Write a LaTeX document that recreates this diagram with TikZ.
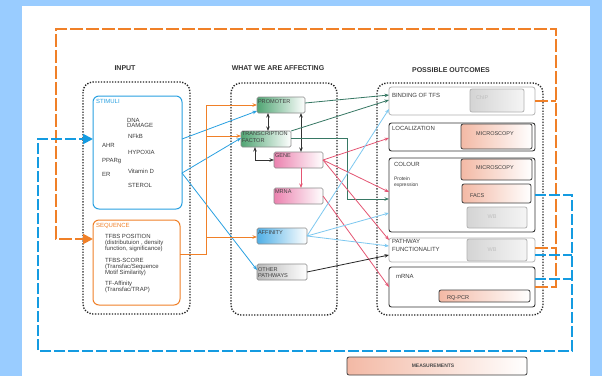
\documentclass[tikz,border=0pt]{standalone}
\usepackage{fontspec}
\setmainfont{Liberation Sans}
\usetikzlibrary{arrows.meta,shadings}
\definecolor{bgblue}{RGB}{153,204,255}
\definecolor{ob}{RGB}{240,128,40}
\definecolor{db}{RGB}{20,155,225}
\definecolor{sb}{RGB}{40,160,225}
\definecolor{lb}{RGB}{125,200,240}
\definecolor{tg}{RGB}{55,120,100}
\definecolor{pk}{RGB}{228,85,115}
\definecolor{grnb}{RGB}{80,165,115}
\definecolor{pinkb}{RGB}{235,130,175}
\definecolor{blueb}{RGB}{80,175,230}
\definecolor{grayb}{RGB}{185,185,185}
\definecolor{salmon}{RGB}{243,185,165}
\definecolor{chipg}{RGB}{212,212,212}
\definecolor{txtc}{RGB}{60,60,60}
\begin{document}
\begin{tikzpicture}[x=1pt,y=-1pt,
  txt/.style={inner sep=0pt,outer sep=0pt,anchor=base west,text=txtc,font=\fontsize{6}{7}\selectfont},
  small/.style={txt,font=\fontsize{5}{6}\selectfont},
  ttl/.style={inner sep=0pt,anchor=base,text=black!80,font=\bfseries\fontsize{7}{8}\selectfont},
  cont/.style={draw=black!85,line width=1.4pt,dash pattern=on 1.3pt off 1.5pt,rounded corners=10pt},
  bx/.style={rectangle,inner sep=0pt,outer sep=0pt,anchor=north west},
  mid/.style={bx,draw=black!45,line width=0.7pt,rounded corners=1.5pt},
  outd/.style={bx,draw=black!80,line width=0.9pt,rounded corners=2.5pt},
  outl/.style={bx,draw=black!30,line width=0.8pt,rounded corners=2.5pt},
  meas/.style={bx,draw=black!75,line width=0.8pt,rounded corners=2pt,left color=salmon,right color=white},
  gbox/.style={bx,draw=black!30,line width=0.8pt,rounded corners=2pt,left color=chipg,right color=white!96!black},
  arr/.style={-{Stealth[length=4.5pt,width=3.5pt]},line width=0.8pt},
  darr/.style={{Stealth[length=4.5pt,width=3.5pt]}-{Stealth[length=4.5pt,width=3.5pt]},line width=0.8pt,draw=black!80},
  oloop/.style={draw=ob,line width=2pt,dash pattern=on 13pt off 3pt},
  bloop/.style={draw=db,line width=2pt,dash pattern=on 11pt off 3pt},
  bigtip/.style={-{Triangle[length=10pt,width=10pt]}}
]
\useasboundingbox (0,0) rectangle (602,376);
\fill[bgblue] (0,0) rectangle (602,376);
\fill[white] (22,6) rectangle (590,376);

% titles
\node[ttl] (tin) at (125,70) {INPUT};
\node[ttl] (taff) at (278,70) {WHAT WE ARE AFFECTING};
\node[ttl] (tout) at (451,72) {POSSIBLE OUTCOMES};

% containers
\draw[cont] (83,82) rectangle (190,314);
\draw[cont] (231,83) rectangle (337,315);
\draw[cont] (377,83) rectangle (543,315);

% input boxes
\node[bx,draw=sb,line width=1pt,rounded corners=6pt,minimum width=89pt,minimum height=113pt] (stimuli) at (93,96) {};
\node[bx,draw=ob,line width=1pt,rounded corners=6pt,minimum width=87pt,minimum height=85pt] (sequence) at (93,220) {};
\node[txt,text=sb] (stT) at (96,103) {STIMULI};
\node[txt] (s1) at (127,122) {DNA};
\node[txt] (s2) at (127,127.5) {DAMAGE};
\node[txt] (s3) at (128,138) {NFkB};
\node[txt] (s4) at (102,147) {AHR};
\node[txt] (s5) at (128,154) {HYPOXIA};
\node[txt] (s6) at (102,162) {PPARg};
\node[txt] (s7) at (128,173) {Vitamin D};
\node[txt] (s8) at (102,176) {ER};
\node[txt] (s9) at (128,187) {STEROL};
\node[txt,text=ob] (sqT) at (96,227.5) {SEQUENCE};
\node[txt] (q1) at (105,238) {TFBS POSITION};
\node[txt] (q2) at (105,244) {(distributuion , density};
\node[txt] (q3) at (105,250) {function, significance)};
\node[txt] (q4) at (105,262) {TFBS-SCORE};
\node[txt] (q5) at (105,268) {(Transfac/Sequence};
\node[txt] (q6) at (105,274) {Motif Similarity)};
\node[txt] (q7) at (105,285) {TF-Affinity};
\node[txt] (q8) at (105,291) {(Transfac/TRAP)};

% middle boxes
\node[mid,left color=grnb,right color=white,minimum width=48pt,minimum height=16pt] (promoter) at (257,97) {};
\node[mid,left color=grnb,right color=white,minimum width=50pt,minimum height=16pt] (tf) at (241,131) {};
\node[mid,left color=pinkb,right color=white,minimum width=49pt,minimum height=16pt] (gene) at (274,152) {};
\node[mid,left color=pinkb,right color=white,minimum width=49pt,minimum height=16pt] (mrna) at (274,188) {};
\node[mid,left color=blueb,right color=white,minimum width=50pt,minimum height=16pt] (affinity) at (257,228) {};
\node[mid,left color=grayb,right color=white,minimum width=50pt,minimum height=16pt] (other) at (257,264) {};
\begin{scope}[every node/.style={txt,font=\fontsize{5.6}{6}\selectfont,text=black!75}]
\node (promT) at (258,103) {PROMOTER};
\node (tfT1) at (242,135) {TRANSCRIPTION};
\node (tfT2) at (242,142) {FACTOR};
\node (geneT) at (275,157) {GENE};
\node (mrnaT) at (275,193) {MRNA};
\node (affT) at (258,234) {AFFINITY};
\node (othT1) at (258,271) {OTHER};
\node (othT2) at (258,277) {PATHWAYS};
\end{scope}

% outcome boxes
\node[outl,minimum width=146pt,minimum height=28pt] (binding) at (389,87) {};
\node[gbox,minimum width=54pt,minimum height=23pt] (chip) at (470,89) {};
\node[outd,minimum width=146pt,minimum height=28pt] (loc) at (389,123) {};
\node[meas,minimum width=71pt,minimum height=25pt] (micro1) at (461,124) {};
\node[outd,minimum width=146pt,minimum height=74pt] (colour) at (389,158) {};
\node[meas,minimum width=71pt,minimum height=21pt] (micro2) at (461,159) {};
\node[meas,minimum width=69pt,minimum height=19pt] (facs) at (462,184) {};
\node[gbox,minimum width=60pt,minimum height=21pt] (wb1) at (467,207) {};
\node[outl,minimum width=146pt,minimum height=24pt] (pathway) at (389,238) {};
\node[gbox,minimum width=60pt,minimum height=22pt] (wb2) at (467,239) {};
\node[outd,minimum width=146pt,minimum height=40pt] (mrnaout) at (389,267) {};
\node[meas,minimum width=91pt,minimum height=12pt] (rqpcr) at (439,290) {};
\node[meas,minimum width=180pt,minimum height=18pt] (measure) at (347,357) {};

\node[txt] (bindT) at (392,97) {BINDING OF TFS};
\node[txt,text=black!25,font=\fontsize{5.5}{6}\selectfont] (chipT) at (476,99) {ChIP};
\node[txt] (locT) at (392,130) {LOCALIZATION};
\node[txt,anchor=base,font=\fontsize{5.5}{6}\selectfont] (m1T) at (495,135) {MICROSCOPY};
\node[txt] (colT) at (394,166) {COLOUR};
\node[txt,anchor=base,font=\fontsize{5.5}{6}\selectfont] (m2T) at (495,169) {MICROSCOPY};
\node[small] (pe1) at (394,180) {Protein};
\node[small] (pe2) at (394,186) {expression};
\node[txt,font=\fontsize{5.5}{6}\selectfont] (facsT) at (470,197) {FACS};
\node[txt,anchor=base,text=black!25,font=\fontsize{5.5}{6}\selectfont] (wb1T) at (492,218) {WB};
\node[txt] (pwT1) at (392,243) {PATHWAY};
\node[txt] (pwT2) at (392,251) {FUNCTIONALITY};
\node[txt,anchor=base,text=black!25,font=\fontsize{5.5}{6}\selectfont] (wb2T) at (492,251) {WB};
\node[txt] (mrT) at (396,278) {mRNA};
\node[txt,font=\fontsize{5.6}{6}\selectfont] (rqT) at (447,299) {RQ-PCR};
\node[txt,anchor=base,font=\bfseries\fontsize{5}{6}\selectfont,text=black!70] (measT) at (433,367) {MEASUREMENTS};

% dashed feedback loops
\coordinate (oTL) at (56,29);
\coordinate (oTR) at (556,29);
\draw[oloop] (binding.east |- 0,101) -- (oTR |- 0,101);
\draw[oloop] (pathway.east |- 0,248) -- (oTR |- 0,248);
\draw[oloop,bigtip] (mrnaout.east |- 0,287) -| (oTR) -- (oTL) |- (sequence.west |- 0,239);
\coordinate (bBR) at (572,351);
\coordinate (bBL) at (38,351);
\draw[bloop] (pathway.east |- 0,255) -- (bBR |- 0,255);
\draw[bloop] (mrnaout.east |- 0,279) -- (bBR |- 0,279);
\draw[bloop,bigtip] (colour.east |- 0,195) -| (bBR) -- (bBL) |- (stimuli.west |- 0,139);

% stimuli connectors
\draw[arr,draw=sb] (stimuli.east |- 0,139) -- (promoter.west |- 0,111);
\draw[arr,draw=sb] (stimuli.east |- 0,173) -- (tf.west |- 0,138);
\draw[arr,draw=sb] (stimuli.east |- 0,173) -- (other.west |- 0,270);

% sequence connectors
\coordinate (oj) at (206,254);
\draw[arr,draw=ob] (sequence.east |- oj) -- (oj) -- (oj |- 0,105) -- (promoter.west |- 0,105);
\draw[arr,draw=ob] (oj |- 0,136) -- (tf.west |- 0,136);
\draw[arr,draw=ob] (oj |- 0,237) -- (affinity.west |- 0,237);

% middle internal
\draw[darr] (promoter.south -| 268,0) -- (tf.north -| 268,0);
\draw[darr] (promoter.south -| 301,0) -- (gene.north -| 301,0);
\draw[darr] (tf.south -| 255,0) |- (gene.west);
\draw[arr,draw=pk] (gene.south -| 301,0) -- (mrna.north -| 301,0);

% green
\draw[arr,draw=tg] (promoter.east |- 0,103) -- (binding.west |- 0,95);
\draw[arr,draw=tg] (tf.north east) -- (binding.west |- 0,100);
\coordinate (gT) at (347,138);
\draw[arr,draw=tg] (tf.east |- gT) -- (gT) |- (colour.west |- 0,199);

% pink
\draw[arr,draw=pk] (gene.east) -- (loc.west |- 0,138);
\draw[arr,draw=pk] (gene.east) -- (colour.west |- 0,192);
\draw[arr,draw=pk] (gene.east) -- (pathway.west |- 0,240);
\draw[arr,draw=pk] (mrna.east) -- (mrnaout.west |- 0,287);

% light blue
\draw[arr,draw=lb] (affinity.east) -- (binding.west |- 0,109);
\draw[arr,draw=lb] (affinity.east) -- (colour.west |- 0,213);
\draw[arr,draw=lb] (affinity.east) -- (pathway.west |- 0,246);

% black
\draw[arr,draw=black!85] (other.east) -- (pathway.west |- 0,255);
\end{tikzpicture}
\end{document}
